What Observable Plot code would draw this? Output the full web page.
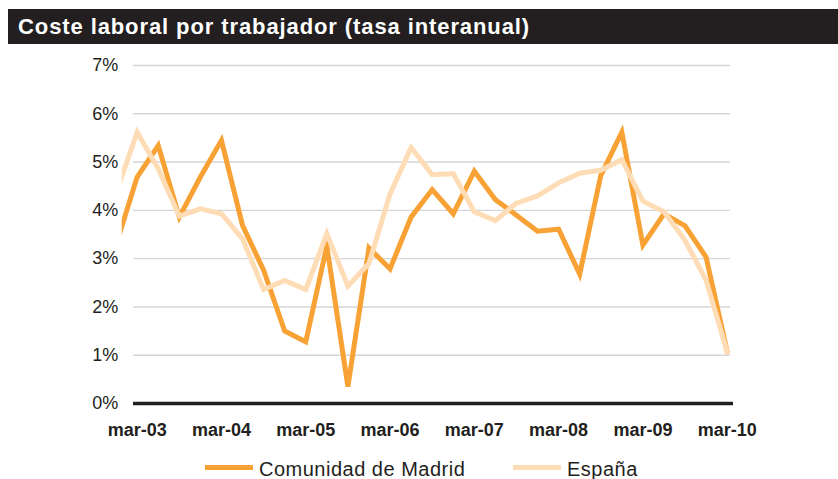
<!DOCTYPE html>
<html>
<head>
<meta charset="utf-8">
<script src="https://cdn.jsdelivr.net/npm/d3@7"></script>
<script src="https://cdn.jsdelivr.net/npm/@observablehq/plot@0.6"></script>
<style>
  html, body { margin: 0; padding: 0; background: #fff; }
  body { position: relative; width: 838px; height: 479px; overflow: hidden; font-family: "Liberation Sans", Arial, sans-serif; color: #231f20; }
  #title { position: absolute; left: 8px; top: 9px; width: 830px; height: 35px; background: #231f20; color: #fff;
           font-weight: bold; font-size: 22px; line-height: 35px; letter-spacing: 0.9px; padding-left: 10px; box-sizing: border-box; white-space: nowrap; }
  #chart { position: absolute; left: 0; top: 44px; }
  .sw { position: absolute; height: 5px; width: 48px; }
  .lt { position: absolute; font-size: 20px; line-height: 20px; letter-spacing: 0.5px; white-space: nowrap; color: #231f20; }
</style>
</head>
<body>
<div id="title">Coste laboral por trabajador (tasa interanual)</div>
<div id="chart"></div>
<div class="sw" style="left:205px; top:465px; background:#f8a134;"></div>
<div class="lt" style="left:259px; top:459px;">Comunidad de Madrid</div>
<div class="sw" style="left:513px; top:465px; background:#fedcb6;"></div>
<div class="lt" style="left:567px; top:459px;">España</div>
<script>
// Quarterly series (index 0 = dic-02, index 1 = mar-03 ... index 29 = mar-10)
const madrid = [3.29, 4.69, 5.34, 3.86, 4.69, 5.45, 3.69, 2.76, 1.50, 1.28,
                3.26, 0.35, 3.22, 2.79, 3.86, 4.43, 3.93, 4.81, 4.22, 3.90,
                3.57, 3.61, 2.68, 4.72, 5.62, 3.28, 3.93, 3.68, 3.03, 1.07];
const espana = [4.36, 5.62, 4.86, 3.88, 4.03, 3.93, 3.41, 2.36, 2.55, 2.36,
                3.52, 2.43, 2.90, 4.34, 5.30, 4.74, 4.76, 3.97, 3.79, 4.15,
                4.30, 4.57, 4.77, 4.83, 5.05, 4.19, 3.97, 3.38, 2.55, 1.07];
const tickIndex = [1, 5, 9, 13, 17, 21, 25, 29];
const tickLabels = ["mar-03", "mar-04", "mar-05", "mar-06", "mar-07", "mar-08", "mar-09", "mar-10"];
const yTicks = [0, 1, 2, 3, 4, 5, 6, 7];

const dataM = madrid.map((v, i) => ({i, v}));
const dataE = espana.map((v, i) => ({i, v}));

const chart = Plot.plot({
  width: 838,
  height: 400,
  marginLeft: 121.7,
  marginRight: 108,
  marginTop: 21,
  marginBottom: 41,
  x: {domain: [0.29, 29.157], axis: null},
  y: {domain: [0, 7], axis: null},
  style: {fontFamily: "'Liberation Sans', Arial, sans-serif", color: "#231f20", background: "transparent", overflow: "visible"},
  marks: [
    Plot.ruleY(yTicks.filter(d => d > 0), {x1: 0.826, x2: 29.157, stroke: "#d6d6d6", strokeWidth: 1.4}),
    Plot.axisY({ticks: yTicks, tickFormat: d => d + "%", tickSize: 0, tickPadding: 4, fontSize: 18, letterSpacing: 0.5, label: null}),
    Plot.axisX({ticks: tickIndex, tickFormat: d => tickLabels[tickIndex.indexOf(d)], tickSize: 0, tickPadding: 20,
                fontSize: 18, fontWeight: "bold", letterSpacing: 0.6, label: null}),
    Plot.line(dataM, {x: "i", y: "v", stroke: "#f8a134", strokeWidth: 5, strokeLinejoin: "miter", strokeMiterlimit: 6, clip: true}),
    Plot.line(dataE, {x: "i", y: "v", stroke: "#fedcb6", strokeWidth: 5, strokeLinejoin: "miter", strokeMiterlimit: 6, clip: true}),
    Plot.ruleY([0], {x1: 0.826, x2: 29.3, stroke: "#231f20", strokeWidth: 3.5})
  ]
});
document.getElementById("chart").appendChild(chart);
</script>
</body>
</html>
